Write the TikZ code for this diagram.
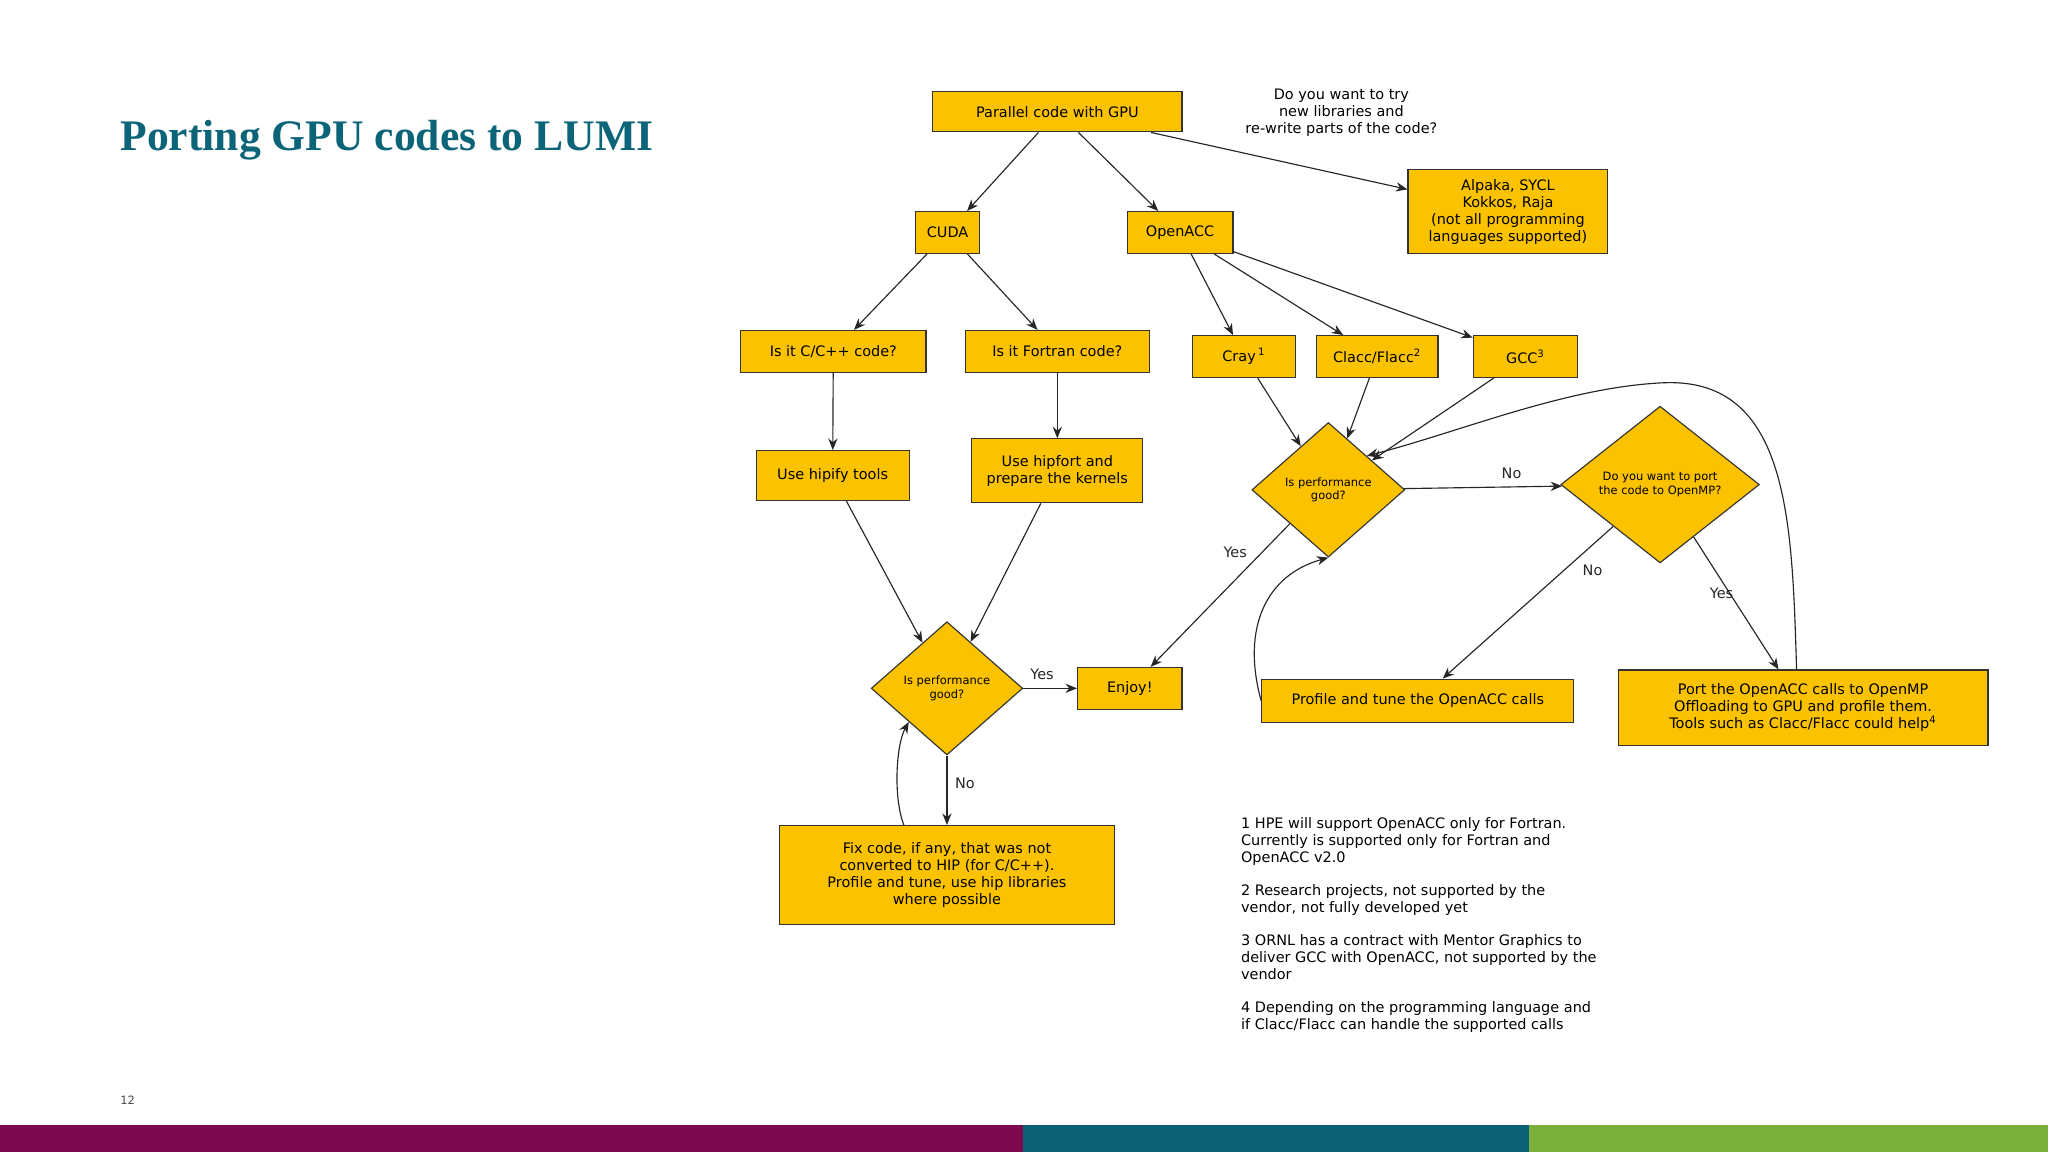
\documentclass[tikz,border=0pt]{standalone}
\usepackage{fontspec}
\setmainfont{DejaVu Sans}
\newfontfamily\titlefont{Liberation Serif}
\usetikzlibrary{shapes.geometric,arrows.meta}
\definecolor{gold}{HTML}{FBC200}
\definecolor{teal}{HTML}{0B6477}
\definecolor{barpurple}{HTML}{7D0A4F}
\definecolor{barteal}{HTML}{0C6073}
\definecolor{bargreen}{HTML}{7AB03B}
\begin{document}
\begin{tikzpicture}[x=0.02cm,y=-0.02cm,
  txt/.style={font=\fontsize{6.3}{7.4}\selectfont},
  bx/.style 2 args={draw=black!80,fill=gold,line width=0.5pt,txt,align=center,inner sep=1pt,minimum width={#1*0.02cm},minimum height={#2*0.02cm}},
  dm/.style 2 args={diamond,draw=black!80,fill=gold,line width=0.5pt,align=center,inner sep=0pt,font=\fontsize{5}{5.8}\selectfont,minimum width={#1*0.02cm},minimum height={#2*0.02cm}},
  ar/.style={-{Stealth[length=5pt,width=4pt]},line width=0.5pt,black!85},
  lb/.style={txt}]
\useasboundingbox (0,0) rectangle (1568,882);
\fill[white] (0,0) rectangle (1568,882);
\fill[barpurple] (0,861) rectangle (783,882);
\fill[barteal] (783,861) rectangle (1171,882);
\fill[bargreen] (1171,861) rectangle (1568,882);
\node[anchor=west,text=teal,font=\titlefont\bfseries\fontsize{19}{22}\selectfont] (title) at (86,107) {Porting GPU codes to LUMI};
\node[anchor=west,text=black!70,font=\fontsize{5}{6}\selectfont] (pg) at (86,842) {12};

\node[bx={191}{31}] (par) at (809.5,85.5) {Parallel code with GPU};
\node[txt,align=center] (q) at (1027,86) {Do you want to try\\new libraries and\\re-write parts of the code?};
\node[bx={153}{64}] (alp) at (1154.5,162) {Alpaka, SYCL\\Kokkos, Raja\\(not all programming\\languages supported)};
\node[bx={49}{32}] (cuda) at (725.5,178) {CUDA};
\node[bx={81}{32}] (acc) at (903.5,178) {OpenACC};
\node[bx={142}{32}] (cc) at (638,269) {Is it C/C++ code?};
\node[bx={141}{32}] (ft) at (809.5,269) {Is it Fortran code?};
\node[bx={79}{32}] (cray) at (952.5,273) {Cray\,\textsuperscript{1}};
\node[bx={93}{32}] (clacc) at (1054.5,273) {Clacc/Flacc\textsuperscript{2}};
\node[bx={80}{32}] (gcc) at (1168,273) {GCC\textsuperscript{3}};
\node[bx={117}{38}] (hipify) at (637.5,364) {Use hipify tools};
\node[bx={131}{49}] (hipfort) at (809.5,360.5) {Use hipfort and\\prepare the kernels};
\node[dm={116}{102}] (p1) at (725,527) {Is performance\\good?};
\node[bx={80}{32}] (enjoy) at (865,527) {Enjoy!};
\node[bx={256}{76}] (fix) at (725,670) {Fix code, if any, that was not\\converted to HIP (for C/C++).\\Profile and tune, use hip libraries\\where possible};
\node[dm={117}{103}] (p2) at (1017,375) {Is performance\\good?};
\node[dm={152}{120}] (port) at (1271,371) {Do you want to port\\the code to OpenMP?};
\node[bx={239}{33}] (prof) at (1085.5,536.5) {Profile and tune the OpenACC calls};
\node[bx={283}{58}] (pomp) at (1380.5,542) {Port the OpenACC calls to OpenMP\\Offloading to GPU and profile them.\\Tools such as Clacc/Flacc could help\textsuperscript{4}};

\draw[ar] (par) -- (cuda);
\draw[ar] (par) -- (acc);
\draw[ar] (par) -- (alp);
\draw[ar] (cuda) -- (cc);
\draw[ar] (cuda) -- (ft);
\draw[ar] (acc) -- (cray);
\draw[ar] (acc) -- (clacc);
\draw[ar] (acc) -- (gcc);
\draw[ar] (cc) -- (hipify);
\draw[ar] (ft) -- (hipfort);
\draw[ar] (hipify) -- (p1);
\draw[ar] (hipfort) -- (p1);
\draw[ar] (p1) -- node[lb,above,pos=0.35] {Yes} (enjoy);
\draw[ar] (p1) -- node[lb,right,pos=0.4] {No} (fix);
\draw[ar] ([xshift=-33*0.02cm]fix.north) .. controls +(-8,-20) and +(-10,18) .. (p1.south west);
\draw[ar] (cray) -- (p2);
\draw[ar] (clacc) -- (p2);
\draw[ar] (gcc) -- (p2);
\draw[ar] (p2) -- node[lb,above,pos=0.68] {No} (port);
\draw[ar] (p2.south west) -- node[lb,left,pos=0.2,xshift=-3pt] {Yes} (enjoy);
\draw[ar] (port) -- node[lb,below right,pos=0.2,xshift=-2pt] {No} (prof);
\draw[ar] (port) -- node[lb,below left,pos=0.32,xshift=9pt] {Yes} (pomp);
\draw[ar] ([xshift=-5*0.02cm]pomp.north) .. controls (1372,400) and (1370,290) .. (1275,293) .. controls (1200,296) and (1120,330) .. (p2.north east);
\draw[ar] (prof.west) .. controls (950,480) and (970,440) .. (p2.south);

\node[txt,align=left,anchor=north west] (notes) at (944,620) {1 HPE will support OpenACC only for Fortran.\\Currently is supported only for Fortran and\\OpenACC v2.0\\[7pt]2 Research projects, not supported by the\\vendor, not fully developed yet\\[7pt]3 ORNL has a contract with Mentor Graphics to\\deliver GCC with OpenACC, not supported by the\\vendor\\[7pt]4 Depending on the programming language and\\if Clacc/Flacc can handle the supported calls};
\end{tikzpicture}
\end{document}
